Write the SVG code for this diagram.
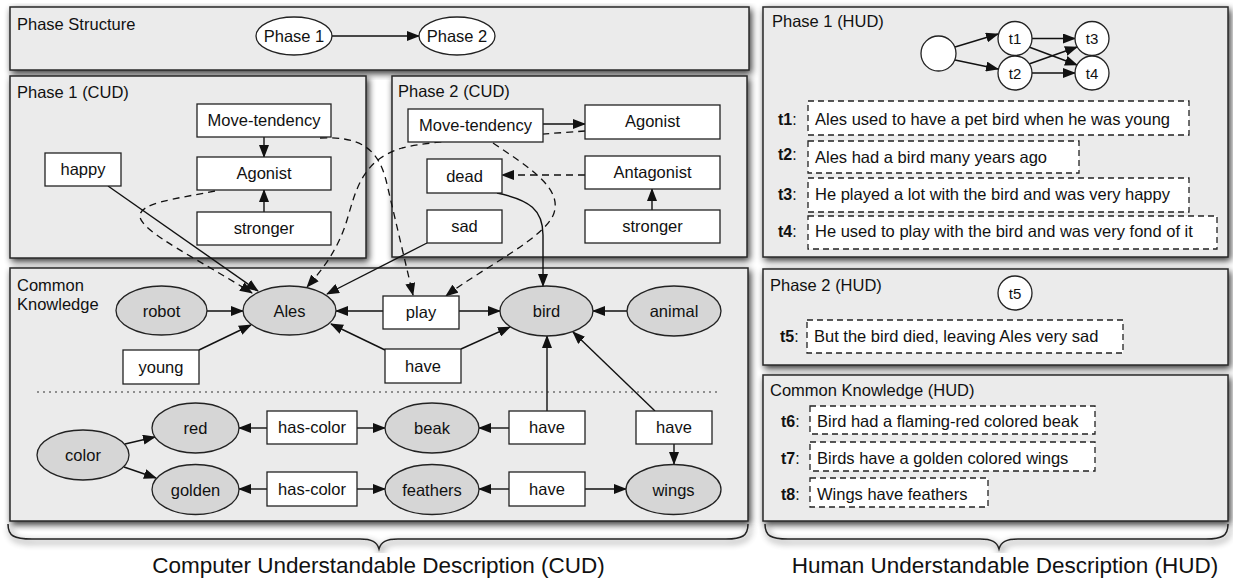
<svg xmlns="http://www.w3.org/2000/svg" width="1233" height="581" viewBox="0 0 1233 581">
<defs>
<filter id="sh" x="-5%" y="-10%" width="110%" height="125%">
<feGaussianBlur in="SourceAlpha" stdDeviation="3.5"/>
<feOffset dx="2" dy="3" result="b"/>
<feComponentTransfer><feFuncA type="linear" slope="0.8"/></feComponentTransfer>
<feMerge><feMergeNode/><feMergeNode in="SourceGraphic"/></feMerge>
</filter>
<marker id="ah" markerWidth="13" markerHeight="10" refX="12" refY="5" orient="auto" markerUnits="userSpaceOnUse"><path d="M0,0 L13,5 L0,10 z" fill="#111"/></marker>
<style>
text{font-family:"Liberation Sans",Arial,Helvetica,sans-serif;fill:#111}
.panel{fill:#ebebeb;stroke:#2a2a2a;stroke-width:1.5;filter:url(#sh)}
.box{fill:#fff;stroke:#222;stroke-width:1.3}
.ell{fill:#d6d6d6;stroke:#222;stroke-width:1.3}
.circ{fill:#fff;stroke:#222;stroke-width:1.3}
.dbox{fill:#fff;stroke:#222;stroke-width:1.3;stroke-dasharray:6 4}
.e{fill:none;stroke:#111;stroke-width:1.4;marker-end:url(#ah)}
.ed{fill:none;stroke:#111;stroke-width:1.3;stroke-dasharray:7 5;marker-end:url(#ah)}
.t{font-size:16.5px;text-anchor:middle}
.ct{font-size:15px;text-anchor:middle}
.title{font-size:16.5px}
.ht{font-size:16.5px}
.lbl{font-size:16px}
.big{font-size:22.5px;text-anchor:middle}
.brace{fill:none;stroke:#222;stroke-width:1.5;filter:url(#sh)}
</style>
</defs>

<g id="panels">
<rect class="panel" x="10" y="7" width="739" height="63"/>
<rect class="panel" x="10" y="76" width="356" height="182"/>
<rect class="panel" x="392" y="76" width="355" height="181"/>
<rect class="panel" x="10" y="268" width="738" height="253"/>
<rect class="panel" x="763" y="7" width="465" height="250"/>
<rect class="panel" x="763" y="269" width="465" height="96"/>
<rect class="panel" x="763" y="375" width="465" height="146"/>
<text class="title" x="17" y="30">Phase Structure</text>
<text class="title" x="17" y="98">Phase 1 (CUD)</text>
<text class="title" x="398" y="97">Phase 2 (CUD)</text>
<text class="title" x="17" y="291">Common</text>
<text class="title" x="17" y="310">Knowledge</text>
<text class="title" x="772" y="27">Phase 1 (HUD)</text>
<text class="title" x="770" y="291">Phase 2 (HUD)</text>
<text class="title" x="770" y="396">Common Knowledge (HUD)</text>
<line x1="37" y1="392" x2="718" y2="392" stroke="#333" stroke-width="1.2" stroke-dasharray="2 4"/>
</g>

<g id="connectors">
<path class="e" d="M332,36 L419,36"/>
<path class="e" d="M264,137 L264,157"/>
<path class="e" d="M264,212 L264,190"/>
<path class="e" d="M543,124 L585,124"/>
<path class="ed" d="M585,175 L502,175"/>
<path class="e" d="M652,210 L652,189"/>
<path class="e" d="M108,186 L258,291"/>
<path class="ed" d="M215,191 C175,199 138,203 140,217 C143,233 200,260 252,293"/>
<path class="ed" d="M320,138 C362,136 378,150 386,180 L413,295"/>
<path class="ed" d="M585,131 C520,136 432,140 402,148 C362,160 356,190 347,220 C338,250 322,270 307,287"/>
<path class="ed" d="M493,143 C530,168 562,188 554,213 C546,238 482,268 446,296"/>
<path class="e" d="M427,243 L327,294"/>
<path class="e" d="M497,193 C530,200 543,210 543,235 L543,286"/>
<path class="e" d="M207,311 L243,311"/>
<path class="e" d="M199,350 L251,325"/>
<path class="e" d="M383,311 L336,311"/>
<path class="e" d="M459,311 L500,311"/>
<path class="e" d="M385,350 L331,324"/>
<path class="e" d="M461,349 L510,327"/>
<path class="e" d="M627,311 L593,311"/>
<path class="e" d="M547,411 L547,336"/>
<path class="e" d="M509,428 L479,428"/>
<path class="e" d="M655,411 L573,332"/>
<path class="e" d="M674,444 L674,464"/>
<path class="e" d="M267,428 L239,428"/>
<path class="e" d="M357,428 L385,428"/>
<path class="e" d="M267,489 L239,489"/>
<path class="e" d="M357,489 L385,489"/>
<path class="e" d="M509,489 L479,489"/>
<path class="e" d="M585,489 L626,489"/>
<path class="e" d="M125,444 L155,437"/>
<path class="e" d="M124,467 L156,478"/>
<path class="e" d="M955,47 L998,34"/>
<path class="e" d="M955,60 L998,69"/>
<path class="e" d="M1032,38.5 L1075,38.5"/>
<path class="e" d="M1032,73 L1075,73"/>
<path class="e" d="M1029,47 L1077,65"/>
<path class="e" d="M1029,64 L1077,47"/>
</g>

<g id="ps-phase1"><ellipse class="circ" cx="294" cy="36" rx="38" ry="19"/><text class="t" x="294" y="42">Phase 1</text></g>
<g id="ps-phase2"><ellipse class="circ" cx="457" cy="36" rx="38" ry="19"/><text class="t" x="457" y="42">Phase 2</text></g>

<g id="p1-move"><rect class="box" x="197" y="104" width="134" height="33"/><text class="t" x="264" y="126">Move-tendency</text></g>
<g id="p1-agonist"><rect class="box" x="197" y="157" width="134" height="33"/><text class="t" x="264" y="179">Agonist</text></g>
<g id="p1-stronger"><rect class="box" x="197" y="212" width="134" height="33"/><text class="t" x="264" y="234">stronger</text></g>
<g id="p1-happy"><rect class="box" x="45" y="153" width="76" height="33"/><text class="t" x="83" y="175">happy</text></g>

<g id="p2-move"><rect class="box" x="408" y="109" width="135" height="33"/><text class="t" x="475.5" y="131">Move-tendency</text></g>
<g id="p2-agonist"><rect class="box" x="585" y="105" width="135" height="34"/><text class="t" x="652.5" y="127">Agonist</text></g>
<g id="p2-dead"><rect class="box" x="427" y="159" width="75" height="34"/><text class="t" x="464.5" y="182">dead</text></g>
<g id="p2-antagonist"><rect class="box" x="585" y="156" width="135" height="33"/><text class="t" x="652.5" y="178">Antagonist</text></g>
<g id="p2-sad"><rect class="box" x="427" y="210" width="75" height="33"/><text class="t" x="464.5" y="232">sad</text></g>
<g id="p2-stronger"><rect class="box" x="585" y="210" width="135" height="33"/><text class="t" x="652.5" y="232">stronger</text></g>

<g id="ck-robot"><ellipse class="ell" cx="161.5" cy="310.5" rx="45.5" ry="24.5"/><text class="t" x="161.5" y="316.5">robot</text></g>
<g id="ck-ales"><ellipse class="ell" cx="289.5" cy="310.5" rx="46.5" ry="24.5"/><text class="t" x="289.5" y="316.5">Ales</text></g>
<g id="ck-bird"><ellipse class="ell" cx="546.5" cy="311" rx="46.5" ry="25"/><text class="t" x="546.5" y="317">bird</text></g>
<g id="ck-animal"><ellipse class="ell" cx="674" cy="311" rx="47" ry="25"/><text class="t" x="674" y="317">animal</text></g>
<g id="ck-play"><rect class="box" x="383" y="296" width="76" height="33"/><text class="t" x="421" y="318">play</text></g>
<g id="ck-have1"><rect class="box" x="385" y="349" width="76" height="34"/><text class="t" x="423" y="372">have</text></g>
<g id="ck-young"><rect class="box" x="123" y="350" width="76" height="34"/><text class="t" x="161" y="373">young</text></g>
<g id="ck-red"><ellipse class="ell" cx="195.5" cy="428" rx="43.5" ry="25"/><text class="t" x="195.5" y="434">red</text></g>
<g id="ck-color"><ellipse class="ell" cx="83" cy="455" rx="46" ry="25"/><text class="t" x="83" y="461">color</text></g>
<g id="ck-golden"><ellipse class="ell" cx="195.5" cy="489.5" rx="43.5" ry="25"/><text class="t" x="195.5" y="495.5">golden</text></g>
<g id="ck-hascolor1"><rect class="box" x="267" y="411" width="90" height="33"/><text class="t" x="312" y="433">has-color</text></g>
<g id="ck-hascolor2"><rect class="box" x="267" y="472" width="90" height="34"/><text class="t" x="312" y="495">has-color</text></g>
<g id="ck-beak"><ellipse class="ell" cx="432" cy="428" rx="47" ry="25"/><text class="t" x="432" y="434">beak</text></g>
<g id="ck-feathers"><ellipse class="ell" cx="432" cy="489.5" rx="47" ry="25"/><text class="t" x="432" y="495.5">feathers</text></g>
<g id="ck-have2"><rect class="box" x="509" y="411" width="76" height="33"/><text class="t" x="547" y="433">have</text></g>
<g id="ck-have3"><rect class="box" x="636" y="411" width="76" height="33"/><text class="t" x="674" y="433">have</text></g>
<g id="ck-have4"><rect class="box" x="509" y="472" width="76" height="34"/><text class="t" x="547" y="495">have</text></g>
<g id="ck-wings"><ellipse class="ell" cx="673.5" cy="489.5" rx="47.5" ry="25"/><text class="t" x="673.5" y="495.5">wings</text></g>

<g id="h-root"><circle class="circ" cx="938.5" cy="53.5" r="17.5"/></g>
<g id="h-t1"><circle class="circ" cx="1015" cy="38.5" r="17"/><text class="ct" x="1015" y="44">t1</text></g>
<g id="h-t2"><circle class="circ" cx="1015" cy="73" r="17"/><text class="ct" x="1015" y="78.5">t2</text></g>
<g id="h-t3"><circle class="circ" cx="1092" cy="38.5" r="17"/><text class="ct" x="1092" y="44">t3</text></g>
<g id="h-t4"><circle class="circ" cx="1092" cy="73" r="17"/><text class="ct" x="1092" y="78.5">t4</text></g>
<g id="h-t5"><circle class="circ" cx="1015" cy="293" r="17"/><text class="ct" x="1015" y="298.5">t5</text></g>

<g id="s-t1"><rect class="dbox" x="808" y="101" width="381" height="34"/><text class="lbl" x="778" y="125"><tspan font-weight="bold">t1</tspan>:</text><text class="ht" x="815" y="125">Ales used to have a pet bird when he was young</text></g>
<g id="s-t2"><rect class="dbox" x="808" y="141" width="271" height="32"/><text class="lbl" x="778" y="160"><tspan font-weight="bold">t2</tspan>:</text><text class="ht" x="815" y="163">Ales had a bird many years ago</text></g>
<g id="s-t3"><rect class="dbox" x="808" y="178" width="381" height="34"/><text class="lbl" x="778" y="200"><tspan font-weight="bold">t3</tspan>:</text><text class="ht" x="815" y="200">He played a lot with the bird and was very happy</text></g>
<g id="s-t4"><rect class="dbox" x="808" y="216" width="409" height="33"/><text class="lbl" x="778" y="237"><tspan font-weight="bold">t4</tspan>:</text><text class="ht" x="815" y="237">He used to play with the bird and was very fond of it</text></g>
<g id="s-t5"><rect class="dbox" x="807" y="320" width="316" height="33"/><text class="lbl" x="780" y="342"><tspan font-weight="bold">t5</tspan>:</text><text class="ht" x="814" y="342">But the bird died, leaving Ales very sad</text></g>
<g id="s-t6"><rect class="dbox" x="810" y="406" width="285" height="28"/><text class="lbl" x="781" y="427"><tspan font-weight="bold">t6</tspan>:</text><text class="ht" x="817" y="427">Bird had a flaming-red colored beak</text></g>
<g id="s-t7"><rect class="dbox" x="810" y="442" width="285" height="29"/><text class="lbl" x="781" y="464"><tspan font-weight="bold">t7</tspan>:</text><text class="ht" x="817" y="464">Birds have a golden colored wings</text></g>
<g id="s-t8"><rect class="dbox" x="810" y="478" width="178" height="29"/><text class="lbl" x="781" y="500"><tspan font-weight="bold">t8</tspan>:</text><text class="ht" x="817" y="500">Wings have feathers</text></g>

<g id="brace-cud">
<path class="brace" d="M8,524 C8,536 14,539 32,539 L360,539 C372,539 377,542 379,549 C381,542 386,539 398,539 L726,539 C742,539 748,536 748,524"/>
<text class="big" x="378.5" y="573">Computer Understandable Description (CUD)</text>
</g>
<g id="brace-hud">
<path class="brace" d="M765,524 C765,536 771,539 788,539 L980,539 C992,539 997,542 999,549 C1001,542 1006,539 1018,539 L1206,539 C1222,539 1228,536 1228,524"/>
<text class="big" x="1005" y="573">Human Understandable Description (HUD)</text>
</g>
</svg>
